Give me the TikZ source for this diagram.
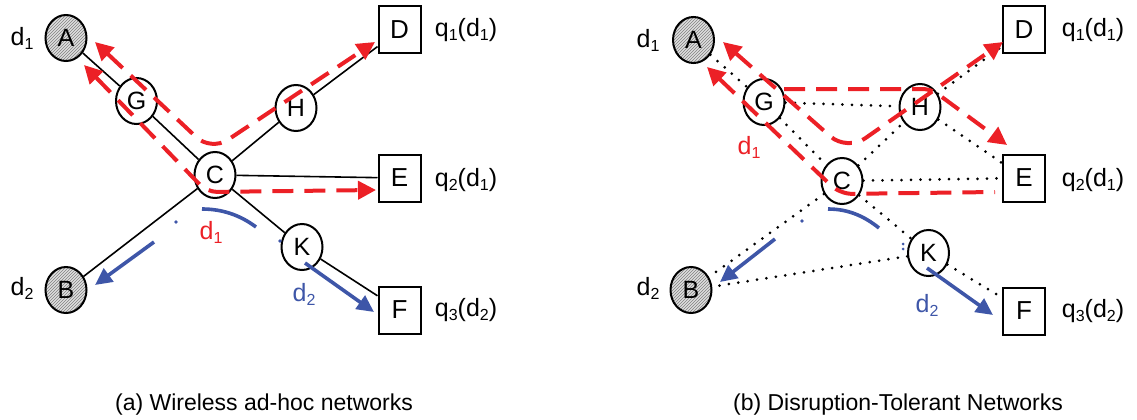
\documentclass[tikz,border=0pt]{standalone}
\usepackage{fontspec}
\setmainfont{Liberation Sans}
\usetikzlibrary{shapes.geometric,arrows.meta,patterns}
\definecolor{pathred}{RGB}{236,32,38}
\definecolor{pathblue}{RGB}{62,86,168}
\newcommand\lsub[1]{\raisebox{-4pt}{\fontsize{16}{16}\selectfont #1}}

\begin{document}
\begin{tikzpicture}[x=1pt,y=-1pt,
  nd/.style={ellipse, draw, line width=2pt, fill=white, minimum width=41pt,
    minimum height=46pt, inner sep=0pt, font=\fontsize{25}{25}\selectfont},
  src/.style={nd, preaction={fill=gray!25}, pattern=north east lines, pattern color=black!50},
  dst/.style={rectangle, draw, line width=2pt, fill=white, minimum width=42pt,
    minimum height=47pt, inner sep=0pt, font=\fontsize{26}{26}\selectfont},
  lbl/.style={inner sep=0pt, font=\fontsize{25}{25}\selectfont},
  captext/.style={inner sep=0pt, font=\fontsize{23}{23}\selectfont},
  link/.style={line width=1.6pt},
  dotlink/.style={line width=3pt, dash pattern=on 0pt off 9.5pt, line cap=round},
  redpath/.style={pathred, line width=4pt, dash pattern=on 21pt off 11pt},
  bluepath/.style={pathblue, line width=3.6pt},
  rtip/.style={-{Triangle[length=18pt,width=18pt]}},
  rtips/.style={{Triangle[length=18pt,width=18pt]}-{Triangle[length=18pt,width=18pt]}},
  rtipstart/.style={{Triangle[length=18pt,width=18pt]}-},
  btip/.style={-{Triangle[length=17pt,width=16pt]}},
]
\useasboundingbox (0,0) rectangle (1137,420);

% ---------- (a) wireless ad-hoc network ----------
\node[src] (aA) at (66,38) {A};
\node[nd]  (aG) at (136.5,101) {G};
\node[nd]  (aH) at (296,108) {H};
\node[nd]  (aC) at (215,175) {C};
\node[nd]  (aK) at (302,247) {K};
\node[src] (aB) at (66,290) {B};
\node[dst] (aD) at (399.5,30) {D};
\node[dst] (aE) at (399.5,178) {E};
\node[dst] (aF) at (399.5,310) {F};

\node[lbl] (ad1) at (22,38) {d\lsub{1}};
\node[lbl] (ad2) at (22,288) {d\lsub{2}};
\node[lbl] (aq1) at (466,30) {q\lsub{1}(d\lsub{1})};
\node[lbl] (aq2) at (466,180) {q\lsub{2}(d\lsub{1})};
\node[lbl] (aq3) at (466,310) {q\lsub{3}(d\lsub{2})};

\draw[link] (aA) -- (aG);
\draw[link] (aG) -- (aC);
\draw[link] (aC) -- (aH);
\draw[link] (aH) -- (aD);
\draw[link] (aC) -- (aE);
\draw[link] (aC) -- (aB);
\draw[link] (aC) -- (aK);
\draw[link] (aK) -- (aF);

% data d1 flows
\draw[redpath, rtips, rounded corners=20pt] (95,42) -- (211,151) -- (375,42);
\draw[redpath, rtips, rounded corners=10pt] (84,65) -- (207,192) -- (376,190);
\node[lbl, text=pathred] (ar1) at (211,232) {d\lsub{1}};

% data d2 flows
\draw[bluepath] (202,209) .. controls (222,209) and (240,215) .. (256,227);
\draw[bluepath, btip] (154,242) -- (95,285);
\draw[bluepath, btip] (305,263) -- (374,312);
\fill[pathblue] (176,222) circle (1.8pt);
\fill[pathblue] (280,241) circle (1.8pt);
\node[lbl, text=pathblue] (ab2) at (304,294) {d\lsub{2}};

\node[captext] (acap) at (264,405) {(a) Wireless ad-hoc networks};

% ---------- (b) disruption-tolerant network ----------
\node[src] (bA) at (693.5,40) {A};
\node[nd]  (bG) at (764,102) {G};
\node[nd]  (bH) at (920,107) {H};
\node[nd]  (bC) at (842,181) {C};
\node[nd]  (bK) at (928.5,253) {K};
\node[src] (bB) at (691,290) {B};
\node[dst] (bD) at (1024,30) {D};
\node[dst] (bE) at (1024,178) {E};
\node[dst] (bF) at (1024,311) {F};

\node[lbl] (bd1) at (648,40) {d\lsub{1}};
\node[lbl] (bd2) at (648,288) {d\lsub{2}};
\node[lbl] (bq1) at (1093,30) {q\lsub{1}(d\lsub{1})};
\node[lbl] (bq2) at (1093,180) {q\lsub{2}(d\lsub{1})};
\node[lbl] (bq3) at (1093,311) {q\lsub{3}(d\lsub{2})};

\draw[dotlink] (bA) -- (bG);
\draw[dotlink] (bG) -- (bH);
\draw[dotlink] (bG) -- (bC);
\draw[dotlink] (bC) -- (bH);
\draw[dotlink] (bH) -- (bD);
\draw[dotlink] (bH) -- (bE);
\draw[dotlink] (bC) -- (bE);
\draw[dotlink] (bC) -- (bB);
\draw[dotlink] (bC) -- (bK);
\draw[dotlink] (bK) -- (bB);
\draw[dotlink] (bK) -- (bF);

% data d1 flows
\draw[redpath, rtips, rounded corners=22pt] (723,42) -- (847,151) -- (1003,42);
\draw[redpath, rtip, rounded corners=8pt] (784,89) -- (931,89) -- (1007,145);
\draw[redpath, rtipstart, rounded corners=12pt] (707,67) -- (840,194) -- (995,192);
\node[lbl, text=pathred] (br1) at (749,147) {d\lsub{1}};

% data d2 flows
\draw[bluepath] (828,209) .. controls (848,209) and (864,216) .. (879,228);
\draw[bluepath, btip] (775,239) -- (720,282);
\draw[bluepath, btip] (927,268) -- (993,315);
\fill[pathblue] (802,221) circle (1.8pt);
\fill[pathblue] (903,244) circle (1.5pt);
\fill[pathblue] (903,249) circle (1.5pt);
\node[lbl, text=pathblue] (bb2) at (927,305) {d\lsub{2}};

\node[captext] (bcap) at (898,405) {(b) Disruption-Tolerant Networks};
\end{tikzpicture}
\end{document}
